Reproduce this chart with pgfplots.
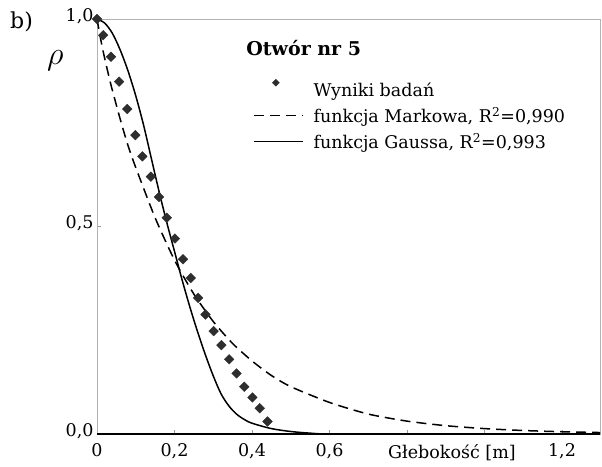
\documentclass[border=0pt]{standalone}
\usepackage{fontspec}
\setmainfont{DejaVu Serif}
\usepackage{pgfplots}
\pgfplotsset{compat=1.18}
\definecolor{markgray}{HTML}{2E2E2E}
\pgfplotsset{
  linelegend/.style={legend image code/.code={\draw[##1] (0pt,0pt) -- (49pt,0pt);}},
  marklegend/.style={legend image code/.code={\draw[##1, mark size=2.4pt] plot coordinates {(22pt,8pt)};}},
}
\begin{document}
\begin{tikzpicture}
\begin{axis}[
  scale only axis, width=503pt, height=415pt,
  xmin=0, xmax=1.298, ymin=0, ymax=1,
  xtick={0,0.2,0.4,0.6,0.8,1.0,1.2},
  xticklabels={0,{0,2},{0,4},{0,6},,,{1,2}},
  ytick={0,0.5,1}, yticklabels={{0,0},{0,5},{1,0}},
  xtick pos=bottom, ytick pos=left,
  tick align=inside, major tick length=4pt,
  tick style={gray!80, thin},
  axis line style={gray!60, thin},
  ticklabel style={font=\fontsize{17.5}{21}\selectfont},
  xticklabel style={yshift=-6pt},
  yticklabel style={yshift=3pt},
  clip=false,
  legend style={at={(0.31,0.855)}, anchor=north west, draw=none, fill=none,
    font=\fontsize{17.5}{21}\selectfont, inner sep=0pt, row sep=5pt,
    /tikz/every odd column/.append style={column sep=8pt}},
  legend cell align=left,
]
\draw[black, line width=1.4pt] (rel axis cs:0,0) -- (rel axis cs:1,0);
\addplot[only marks, mark=square*, mark size=3.4pt, color=markgray,
  mark options={rotate=45}, marklegend]
coordinates {
(0,1.0) (0.016,0.961) (0.036,0.909) (0.057,0.849) (0.078,0.783) (0.099,0.72)
(0.117,0.669) (0.139,0.62) (0.160,0.571) (0.180,0.521) (0.201,0.471)
(0.222,0.421) (0.242,0.376) (0.261,0.328) (0.280,0.288) (0.301,0.248)
(0.321,0.214) (0.341,0.18) (0.360,0.146) (0.380,0.114) (0.401,0.088)
(0.420,0.062) (0.440,0.030)
};
\addlegendentry{Wyniki badań}
\addplot[black, line width=1.5pt, dash pattern=on 10pt off 6pt, smooth, tension=0.4, linelegend]
coordinates {
(0,1.0) (0.014,0.93) (0.035,0.845) (0.061,0.755) (0.08,0.695) (0.1,0.642)
(0.15,0.521) (0.2,0.419) (0.25,0.337) (0.3,0.271) (0.35,0.218) (0.4,0.176)
(0.45,0.141) (0.5,0.114) (0.6,0.076) (0.7,0.048) (0.8,0.031) (0.9,0.020)
(1.0,0.013) (1.1,0.0084) (1.2,0.0054) (1.298,0.0035)
};
\addlegendentry{funkcja Markowa, R\textsuperscript{2}=0,990}
\addplot[black, line width=1.5pt, smooth, tension=0.5, linelegend]
coordinates {
(0,1.0) (0.02,0.99) (0.04,0.965) (0.06,0.925) (0.08,0.875) (0.10,0.815)
(0.12,0.745) (0.14,0.665) (0.16,0.585) (0.18,0.51) (0.20,0.44) (0.22,0.37)
(0.24,0.305) (0.26,0.245) (0.28,0.19) (0.30,0.14) (0.32,0.097) (0.34,0.068)
(0.36,0.048) (0.38,0.035) (0.40,0.026) (0.45,0.013) (0.50,0.006)
(0.55,0.002) (0.60,0.0) (0.8,0.0) (1.0,0.0) (1.298,0.0)
};
\addlegendentry{funkcja Gaussa, R\textsuperscript{2}=0,993}
\node[anchor=base west, font=\bfseries\fontsize{19}{23}\selectfont] at (rel axis cs:0.29,0.913) {Otwór nr 5};
\node[anchor=base, font=\fontsize{17.5}{21}\selectfont] at (axis cs:0.916,0) [yshift=-25pt] {Głebokość [m]};
\node[scale=1.3, font=\fontsize{24}{28}\selectfont] at (rel axis cs:0,1) [xshift=-32pt, yshift=-32pt] {$\rho$};
\node[anchor=north west, inner sep=0pt, font=\fontsize{22}{26}\selectfont] at (rel axis cs:0,1) [xshift=-87pt, yshift=7pt] {b)};
\end{axis}
\pgfresetboundingbox
\path[use as bounding box] ([xshift=-97pt,yshift=-33pt]current axis.south west) rectangle ([xshift=2pt,yshift=19pt]current axis.north east);
\end{tikzpicture}
\end{document}
